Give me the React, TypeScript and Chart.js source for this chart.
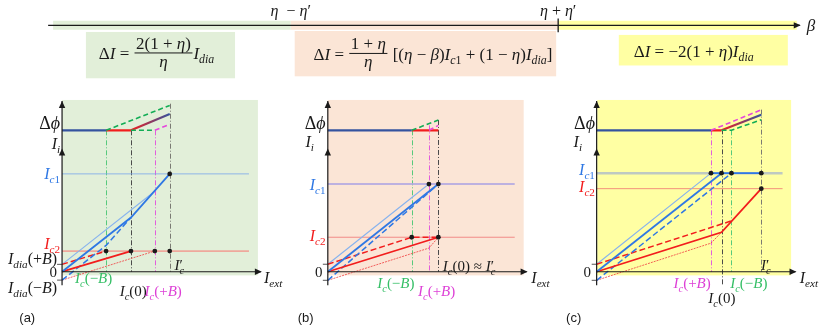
import React, { useEffect, useRef } from 'react';
import { Chart, registerables } from 'chart.js';

Chart.register(...registerables);

// ================= DATA (schematic units) =================
// ---- panel (a): beta < eta - eta'
const aI1PlusB = [[0, 0.75], [9.33, 8.17]];
const aI1Zero = [[0, 0], [6.93, 5.5], [10.83, 9.93]];
const aI1MinusB = [[0, -0.85], [4.43, 2.67], [6.93, 5.5]];
const aI2MinusB = [[0, 0.75], [4.43, 2.1]];
const aI2Zero = [[0, 0], [6.93, 2.1]];
const aI2PlusB = [[0, -0.85], [9.33, 2.1]];
const aIc1Level = [[0, 9.93], [18.8, 9.93]];
const aIc2Level = [[0, 2.1], [18.8, 2.1]];
const aDots = [[10.83, 9.93], [4.43, 2.1], [6.93, 2.1], [9.33, 2.1], [10.83, 2.1]];
const aPhiFlatBlue = [[0, 0], [4.43, 0]];
const aPhiFlatRed = [[4.43, 0], [6.93, 0]];
const aPhiRise = [[6.93, 0], [10.83, 1.65]];
const aPhiMinusB = [[4.43, 0], [10.83, 2.53]];
const aPhiFlatGreen = [[6.93, 0], [9.33, 0]];
const aPhiPlusB = [[9.33, 0], [10.83, 0.61]];
const aGuideX = [4.43, 6.93, 9.33, 10.83];
const aGuideTop = [0, 0, 0, 2.7];
const aGuideBottom = [0, 0, 0, 0];
const aDia = [0.75, -0.85];

// ---- panel (b): eta - eta' < beta < eta + eta'
const bI1PlusB = [[0, 0.76], [10.17, 8.9]];
const bI1Zero = [[0, 0], [11.12, 8.9]];
const bI1MinusB = [[0, -0.87], [11.12, 8.9]];
const bI2MinusB = [[0, 0.76], [8.44, 3.5], [11.12, 3.5]];
const bI2Zero = [[0, 0], [11.12, 3.5]];
const bI2PlusB = [[0, -0.87], [10.17, 2.4], [11.12, 3.5]];
const bIc1Level = [[0, 8.9], [18.8, 8.9]];
const bIc2Level = [[0, 3.5], [18.8, 3.5]];
const bDots = [[10.17, 8.9], [11.12, 8.9], [8.44, 3.5], [11.12, 3.5]];
const bPhiFlatBlue = [[0, 0], [8.44, 0]];
const bPhiFlatRed = [[8.44, 0], [11.12, 0]];
const bPhiMinusB = [[8.44, 0], [11.12, 1.05]];
const bPhiPlusB = [[10.17, 0], [11.12, 0.5]];
const bGuideX = [8.44, 10.17, 11.12];
const bGuideTop = [0, 0.5, 1.05];
const bGuideBottom = [0, 0, 0];
const bDia = [0.76, -0.87];

// ---- panel (c): beta > eta + eta'
const cI1PlusB = [[0, 0.76], [11.5, 10]];
const cI1Zero = [[0, 0], [12.56, 10]];
const cI1MinusB = [[0, -0.87], [13.56, 10]];
const cI1Saturated = [[11.5, 10], [16.56, 10]];
const cI2MinusB = [[0, 0.76], [13.56, 5.16]];
const cI2Zero = [[0, 0], [12.56, 4.0], [16.56, 8.43]];
const cI2PlusB = [[0, -0.87], [11.5, 2.9], [12.56, 4.0]];
const cIc1Level = [[0, 10], [18.7, 10]];
const cIc2Level = [[0, 8.43], [18.7, 8.43]];
const cDots = [[11.5, 10], [12.56, 10], [13.56, 10], [16.56, 10], [16.56, 8.43]];
const cPhiFlatBlue = [[0, 0], [11.5, 0]];
const cPhiFlatRed = [[11.5, 0], [12.56, 0]];
const cPhiRise = [[12.56, 0], [16.56, 1.58]];
const cPhiPlusB = [[11.5, 0], [16.56, 2.08]];
const cPhiMinusB = [[12.56, 0], [13.56, 0], [16.56, 1.08]];
const cGuideX = [11.5, 12.56, 13.56, 16.56];
const cGuideTop = [0, 0.1, 0, 2.1];
const cGuideBottom = [0, -1.3, 0, 0];
const cDia = [0.76, -0.87];

// ---- axes of every panel
const axisVertical = [[0, -1.37], [0, 17.33]];
const axisIiArrow = 12.5;
const axisHorizontal = [[0, 0], [20, 0]];

// ---- top beta axis
const betaAxis = [[0, 0], [75.6, 0]];
const betaMarks = [24.4, 51.3]; // eta - eta', eta + eta'
const betaGreen = [[0.5, 0], [24.4, 0]];
const betaPink = [[24.4, 0], [51.3, 0]];
const betaYellow = [[51.3, 0], [75.3, 0]];
const betaTick = [[51.3, 0.7], [51.3, -0.7]];

// ================= LAYOUT / STYLE =================
const W = 830;
const H = 331;
const UNIT = 10;
const ORIGIN = { a: 60, b: 327.3, c: 597.7, top: 46, iZero: 273.3, phiZero: 129.8, topY: 23.3 };

const GREEN_BG = '#e2efd9';
const PINK_BG = '#fbe5d6';
const YELLOW_BG = '#ffffa3';
const BLUE = '#2f78e4';
const BLUE_LIGHT = '#86b2ee';
const RED = '#f21d1d';
const RED_LIGHT = 'rgba(240,70,70,0.85)';
const GREEN = '#12ad55';
const MAGENTA = '#e648dc';
const PHI_BLUE = '#34539f';
const INK = '#1a1a1a';
const LBL_GREEN = '#35bf66';
const LBL_MAG = '#dd3fd6';
const FORMULA_SIZE = 17;

const MATH_FONT = '"Liberation Serif", "DejaVu Serif", serif';
const SANS_FONT = '"Liberation Sans", "Noto Sans", sans-serif';

type Run = { t: string; it?: boolean; sub?: boolean; sup?: boolean; sans?: boolean };
type Frac = { num: Item[]; den: Item[] };
type Both = { subT: string; supT: string; it?: boolean };
type Item = Run | Frac | Both;

const I: Run = { t: 'I', it: true };
const sub = (t: string, it = true): Run => ({ t, sub: true, it });
const up = (t: string): Run => ({ t });
const itl = (t: string): Run => ({ t, it: true });
const IcB = (sign: string): Item[] => [I, sub('c'), up('(' + sign), itl('B'), up(')')];
const Ic0: Item[] = [I, sub('c'), up('(0)')];
const IcPrime: Item[] = [I, { subT: 'c', supT: '′', it: true }];
const Ic1: Item[] = [I, sub('c'), sub('1', false)];
const Ic2: Item[] = [I, sub('c'), sub('2', false)];
const Ii: Item[] = [I, sub('i')];
const Iext: Item[] = [I, sub('ext')];
const Dphi: Item[] = [up('Δ'), itl('ϕ')];
const Idia: Item[] = [I, sub('dia')];

type Label = { x: string; y: string; vx: number; vy: number; align: 'left' | 'right' | 'center'; size: number; color: string; items: Item[] };

function panelLabels(x: string, L: any): Label[] {
  return L.map((l: any) => ({ x, y: 'y', align: 'left', size: 15, color: INK, ...l }));
}

const LABELS: Label[] = [
  ...panelLabels('x', [
    { vx: -0.2, vy: 0.78, y: 'yP', align: 'right', size: 18, items: Dphi },
    { vx: -0.2, vy: 13.03, align: 'right', size: 16, items: Ii },
    { vx: -0.2, vy: 9.93, align: 'right', size: 16, color: BLUE, items: Ic1 },
    { vx: -0.2, vy: 2.83, align: 'right', size: 16, color: RED, items: Ic2 },
    { vx: -0.5, vy: 1.33, align: 'right', size: 16, items: [...Idia, up('(+'), itl('B'), up(')')] },
    { vx: -0.5, vy: 0, align: 'right', items: [up('0')] },
    { vx: -0.5, vy: -1.67, align: 'right', size: 16, items: [...Idia, up('(−'), itl('B'), up(')')] },
    { vx: 1.3, vy: -0.67, color: LBL_GREEN, items: IcB('−') },
    { vx: 5.8, vy: -1.97, items: Ic0 },
    { vx: 8.3, vy: -1.97, color: LBL_MAG, items: IcB('+') },
    { vx: 11.3, vy: 0.63, items: IcPrime },
    { vx: 20.3, vy: -0.6, size: 16, items: Iext },
    { vx: -4.3, vy: -4.67, size: 13, items: [{ t: '(a)', sans: true }] },
  ]),
  ...panelLabels('xB', [
    { vx: -0.23, vy: 0.78, y: 'yP', align: 'right', size: 18, items: Dphi },
    { vx: -1.4, vy: 13.16, align: 'right', size: 16, items: Ii },
    { vx: -0.23, vy: 8.83, align: 'right', size: 16, color: BLUE, items: Ic1 },
    { vx: -0.23, vy: 3.66, align: 'right', size: 16, color: RED, items: Ic2 },
    { vx: -0.53, vy: 0, align: 'right', items: [up('0')] },
    { vx: 4.97, vy: -1.17, color: LBL_GREEN, items: IcB('−') },
    { vx: 9.07, vy: -1.97, color: LBL_MAG, items: IcB('+') },
    { vx: 11.57, vy: 0.53, items: [...Ic0, up(' ≈ '), ...IcPrime] },
    { vx: 20.47, vy: -0.6, size: 16, items: Iext },
    { vx: -3.03, vy: -4.67, size: 13, items: [{ t: '(b)', sans: true }] },
  ]),
  ...panelLabels('xC', [
    { vx: -0.17, vy: 0.78, y: 'yP', align: 'right', size: 18, items: Dphi },
    { vx: -1.47, vy: 13.16, align: 'right', size: 16, items: Ii },
    { vx: -0.17, vy: 10.33, align: 'right', size: 16, color: BLUE, items: Ic1 },
    { vx: -0.17, vy: 8.63, align: 'right', size: 16, color: RED, items: Ic2 },
    { vx: -0.57, vy: 0, align: 'right', items: [up('0')] },
    { vx: 7.73, vy: -1.17, color: LBL_MAG, items: IcB('+') },
    { vx: 13.43, vy: -1.17, color: LBL_GREEN, items: IcB('−') },
    { vx: 11.23, vy: -2.67, items: Ic0 },
    { vx: 16.53, vy: 0.63, items: IcPrime },
    { vx: 20.43, vy: -0.6, size: 16, items: Iext },
    { vx: -3.07, vy: -4.67, size: 13, items: [{ t: '(c)', sans: true }] },
  ]),
  { x: 'xT', y: 'yT', vx: betaMarks[0], vy: 1.45, align: 'center', size: 16, color: INK, items: [itl('η'), up('  − '), itl('η'), up('′')] },
  { x: 'xT', y: 'yT', vx: betaMarks[1], vy: 1.45, align: 'center', size: 16, color: INK, items: [itl('η'), up(' + '), itl('η'), up('′')] },
  { x: 'xT', y: 'yT', vx: 76.3, vy: 0, align: 'left', size: 17, color: INK, items: [itl('β')] },
];

const eta = itl('η');
const FORMULAS = [
  {
    box: [3.8, 18.8, -0.67, -5.37], color: GREEN_BG, vx: 5.1, vy: -3.42,
    items: [up('Δ'), I, up(' = '), { num: [up('2(1 + '), eta, up(')')], den: [eta] }, ...Idia] as Item[],
  },
  {
    box: [24.8, 51.1, -0.57, -5.17], color: PINK_BG, vx: 26.7, vy: -3.47,
    items: [up('Δ'), I, up(' = '), { num: [up('1 + '), eta], den: [eta] }, up(' [('), eta, up(' − '), itl('β'), up(')'), ...Ic1, up(' + (1 − '), eta, up(')'), ...Idia, up(']')] as Item[],
  },
  {
    box: [57.4, 74.4, -0.97, -4.07], color: YELLOW_BG, vx: 58.9, vy: -3.17,
    items: [up('Δ'), I, up(' = −2(1 + '), eta, up(')'), ...Idia] as Item[],
  },
];

const PANELS = [
  { xId: 'x', bg: [0, 19.7, -0.37, 17.43], bgColor: GREEN_BG, gx: aGuideX, gt: aGuideTop, gb: aGuideBottom, gc: ['#57c97c', '#4a4a4a', '#e25ddc', '#7a7a72'] },
  { xId: 'xB', bg: [0, 19.7, -0.37, 17.43], bgColor: PINK_BG, gx: bGuideX, gt: bGuideTop, gb: bGuideBottom, gc: ['#57c97c', '#e25ddc', '#4a4a4a'] },
  { xId: 'xC', bg: [0.06, 19.56, -0.37, 17.43], bgColor: YELLOW_BG, gx: cGuideX, gt: cGuideTop, gb: cGuideBottom, gc: ['#e25ddc', '#4a4a4a', '#57c97c', '#7a7a72'] },
];

// ================= HELPERS =================
function setFont(ctx: CanvasRenderingContext2D, size: number, it?: boolean, sans?: boolean) {
  ctx.font = `${it ? 'italic ' : ''}${size}px ${sans ? SANS_FONT : MATH_FONT}`;
}
function bothWidth(ctx: CanvasRenderingContext2D, it: Both, size: number) {
  setFont(ctx, size * 0.7, it.it);
  const a = ctx.measureText(it.subT).width;
  setFont(ctx, size, false);
  const b = ctx.measureText(it.supT).width;
  return Math.max(a, b);
}
function measure(ctx: CanvasRenderingContext2D, items: Item[], size: number): number {
  let w = 0;
  for (const it of items) {
    if ('num' in it) {
      w += Math.max(measure(ctx, it.num, size), measure(ctx, it.den, size)) + size * 0.3;
    } else if ('subT' in it) {
      w += bothWidth(ctx, it, size);
    } else {
      setFont(ctx, it.sub || it.sup ? size * 0.7 : size, it.it, it.sans);
      w += ctx.measureText(it.t).width;
    }
  }
  return w;
}
function drawItems(ctx: CanvasRenderingContext2D, items: Item[], x: number, base: number, size: number) {
  for (const it of items) {
    if ('num' in it) {
      const nw = measure(ctx, it.num, size);
      const dw = measure(ctx, it.den, size);
      const w = Math.max(nw, dw) + size * 0.3;
      const bar = base - size * 0.36;
      ctx.fillRect(x + 1, bar - 0.5, w - 2, 1);
      drawItems(ctx, it.num, x + (w - nw) / 2, bar - size * 0.24, size);
      drawItems(ctx, it.den, x + (w - dw) / 2, bar + size * 0.8, size);
      x += w;
    } else if ('subT' in it) {
      const w = bothWidth(ctx, it, size);
      setFont(ctx, size * 0.7, it.it);
      ctx.fillText(it.subT, x, base + size * 0.25);
      setFont(ctx, size, false);
      ctx.fillText(it.supT, x, base - size * 0.05);
      x += w;
    } else {
      const small = it.sub || it.sup;
      setFont(ctx, small ? size * 0.7 : size, it.it, it.sans);
      const y = it.sub ? base + size * 0.25 : it.sup ? base - size * 0.4 : base;
      ctx.fillText(it.t, x, y);
      x += ctx.measureText(it.t).width;
    }
  }
}
function arrow(ctx: CanvasRenderingContext2D, x: number, y: number, dir: 'up' | 'right') {
  ctx.beginPath();
  if (dir === 'up') {
    ctx.moveTo(x, y); ctx.lineTo(x - 3.2, y + 7); ctx.lineTo(x + 3.2, y + 7);
  } else {
    ctx.moveTo(x, y); ctx.lineTo(x - 7, y - 3.2); ctx.lineTo(x - 7, y + 3.2);
  }
  ctx.closePath();
  ctx.fill();
}

const toXY = (pts: number[][]) => pts.map(([x, y]) => ({ x, y }));
function ds(xAxisID: string, yAxisID: string, pts: number[][], color: any, width: number, extra: any = {}) {
  return {
    data: toXY(pts), xAxisID, yAxisID, showLine: true, borderColor: color, backgroundColor: 'transparent',
    borderWidth: width, pointRadius: 0, pointHoverRadius: 0, pointHitRadius: 0, fill: false, tension: 0,
    borderCapStyle: 'butt', order: 3, ...extra,
  };
}
function dotSet(xAxisID: string, pts: number[][]) {
  return {
    data: toXY(pts), xAxisID, yAxisID: 'y', showLine: false, pointRadius: 2.4, pointHoverRadius: 2.4,
    pointBackgroundColor: INK, pointBorderColor: INK, pointBorderWidth: 0, order: 0,
  };
}
function gradient(xId: string, pts: number[][]) {
  return (c: any) => {
    const chart = c.chart;
    const sc = chart.scales[xId];
    if (!sc || !chart.chartArea) return RED;
    const g = chart.ctx.createLinearGradient(sc.getPixelForValue(pts[0][0]), 0, sc.getPixelForValue(pts[pts.length - 1][0]), 0);
    g.addColorStop(0, RED);
    g.addColorStop(1, PHI_BLUE);
    return g;
  };
}

const DASH = [6, 3];
function panelSets(x: string, d: any) {
  return [
    ds(x, 'y', d.ic1, d.ic1Color, d.ic1Width, { order: 9 }),
    ds(x, 'y', d.ic2, d.ic2Color, d.ic2Width, { order: 9 }),
    ds(x, 'y', d.i1p, BLUE_LIGHT, 1.1, { order: 6 }),
    ds(x, 'y', d.i2p, RED_LIGHT, 1, { order: 6, borderDash: [2, 1] }),
    ds(x, 'y', d.i1m, BLUE, 1.5, { order: 5, borderDash: DASH }),
    ds(x, 'y', d.i2m, RED, 1.5, { order: 5, borderDash: DASH }),
    ds(x, 'y', d.i1z, BLUE, 1.8, { order: 4 }),
    ds(x, 'y', d.i2z, RED, 1.8, { order: 4 }),
    ...(d.extra || []),
    dotSet(x, d.dots),
    ds(x, 'yP', d.phiBlue, PHI_BLUE, 2.2, { order: 3 }),
    ds(x, 'yP', d.phiRed, RED, 2.2, { order: 3 }),
    ...(d.phiRise ? [ds(x, 'yP', d.phiRise, gradient(x, d.phiRise), 2.2, { order: 3 })] : []),
    ...d.phiDashed.map((p: any) => ds(x, 'yP', p[0], p[1], 1.6, { order: 2, borderDash: [5, 3] })),
    ds(x, 'y', axisVertical, INK, 1.2, { order: 1 }),
    ds(x, 'y', axisHorizontal, INK, 1.2, { order: 1 }),
    ...d.dia.map((v: number) => ds(x, 'y', [[-0.5, v], [0, v]], '#555', 1, { order: 1 })),
  ];
}

function buildDatasets() {
  return [
    ...panelSets('x', {
      ic1: aIc1Level, ic1Color: 'rgba(120,165,235,0.8)', ic1Width: 1,
      ic2: aIc2Level, ic2Color: 'rgba(242,150,140,0.8)', ic2Width: 1.8,
      i1p: aI1PlusB, i2p: aI2PlusB, i1m: aI1MinusB, i2m: aI2MinusB, i1z: aI1Zero, i2z: aI2Zero,
      dots: aDots, phiBlue: aPhiFlatBlue, phiRed: aPhiFlatRed, phiRise: aPhiRise,
      phiDashed: [[aPhiMinusB, GREEN], [aPhiFlatGreen, GREEN], [aPhiPlusB, MAGENTA]], dia: aDia,
    }),
    ...panelSets('xB', {
      ic1: bIc1Level, ic1Color: 'rgba(178,168,226,0.85)', ic1Width: 2,
      ic2: bIc2Level, ic2Color: 'rgba(240,110,110,0.75)', ic2Width: 1,
      i1p: bI1PlusB, i2p: bI2PlusB, i1m: bI1MinusB, i2m: bI2MinusB, i1z: bI1Zero, i2z: bI2Zero,
      dots: bDots, phiBlue: bPhiFlatBlue, phiRed: bPhiFlatRed, phiRise: null,
      phiDashed: [[bPhiMinusB, GREEN], [bPhiPlusB, MAGENTA]], dia: bDia,
    }),
    ...panelSets('xC', {
      ic1: cIc1Level, ic1Color: 'rgba(188,198,196,0.95)', ic1Width: 2.5,
      ic2: cIc2Level, ic2Color: 'rgba(240,110,110,0.75)', ic2Width: 1,
      i1p: cI1PlusB, i2p: cI2PlusB, i1m: cI1MinusB, i2m: cI2MinusB, i1z: cI1Zero, i2z: cI2Zero,
      extra: [ds('xC', 'y', cI1Saturated, BLUE, 1.8, { order: 4 })],
      dots: cDots, phiBlue: cPhiFlatBlue, phiRed: cPhiFlatRed, phiRise: cPhiRise,
      phiDashed: [[cPhiPlusB, MAGENTA], [cPhiMinusB, GREEN]], dia: cDia,
    }),
    ds('xT', 'yT', betaGreen, GREEN_BG, 9, { order: 9 }),
    ds('xT', 'yT', betaPink, PINK_BG, 9, { order: 9 }),
    ds('xT', 'yT', betaYellow, YELLOW_BG, 9, { order: 9 }),
    ds('xT', 'yT', betaAxis, INK, 1.3, { order: 1 }),
    ds('xT', 'yT', betaTick, INK, 1.3, { order: 1 }),
  ];
}

const schematicPlugin = {
  id: 'schematic',
  beforeDatasetsDraw(chart: any) {
    const ctx: CanvasRenderingContext2D = chart.ctx;
    const s = chart.scales;
    ctx.save();
    for (const p of PANELS) {
      const xs = s[p.xId];
      const x0 = xs.getPixelForValue(p.bg[0]);
      const x1 = xs.getPixelForValue(p.bg[1]);
      const y0 = s.y.getPixelForValue(p.bg[2]);
      const y1 = s.y.getPixelForValue(p.bg[3]);
      ctx.fillStyle = p.bgColor;
      ctx.fillRect(x0, y1, x1 - x0, y0 - y1);
    }
    for (const f of FORMULAS) {
      const x0 = s.xT.getPixelForValue(f.box[0]);
      const x1 = s.xT.getPixelForValue(f.box[1]);
      const y0 = s.yT.getPixelForValue(f.box[2]);
      const y1 = s.yT.getPixelForValue(f.box[3]);
      ctx.fillStyle = f.color;
      ctx.fillRect(x0, y0, x1 - x0, y1 - y0);
    }
    ctx.lineWidth = 1;
    ctx.setLineDash([5, 2, 1, 2]);
    for (const p of PANELS) {
      const xs = s[p.xId];
      p.gx.forEach((gx: number, i: number) => {
        const x = Math.round(xs.getPixelForValue(gx)) + 0.5;
        ctx.strokeStyle = p.gc[i];
        ctx.beginPath();
        ctx.moveTo(x, s.yP.getPixelForValue(p.gt[i]));
        ctx.lineTo(x, s.y.getPixelForValue(p.gb[i]));
        ctx.stroke();
      });
    }
    ctx.restore();
  },
  afterDatasetsDraw(chart: any) {
    const ctx: CanvasRenderingContext2D = chart.ctx;
    const s = chart.scales;
    ctx.save();
    ctx.fillStyle = INK;
    for (const p of PANELS) {
      const xs = s[p.xId];
      const ax = xs.getPixelForValue(0);
      arrow(ctx, ax, s.y.getPixelForValue(axisVertical[1][1]), 'up');
      arrow(ctx, ax, s.y.getPixelForValue(axisIiArrow), 'up');
      arrow(ctx, xs.getPixelForValue(axisHorizontal[1][0]) + 1, s.y.getPixelForValue(0), 'right');
    }
    arrow(ctx, s.xT.getPixelForValue(betaAxis[1][0]) + 1, s.yT.getPixelForValue(0), 'right');
    ctx.textBaseline = 'alphabetic';
    for (const l of LABELS) {
      const px = s[l.x].getPixelForValue(l.vx);
      const py = s[l.y].getPixelForValue(l.vy);
      const w = measure(ctx, l.items, l.size);
      const x0 = l.align === 'right' ? px - w : l.align === 'center' ? px - w / 2 : px;
      ctx.fillStyle = l.color;
      drawItems(ctx, l.items, x0, py + l.size * 0.33, l.size);
    }
    ctx.fillStyle = INK;
    for (const f of FORMULAS) {
      drawItems(ctx, f.items, s.xT.getPixelForValue(f.vx), s.yT.getPixelForValue(f.vy), FORMULA_SIZE);
    }
    ctx.restore();
  },
};

function xScale(originPx: number) {
  return { type: 'linear', axis: 'x', position: 'bottom', display: false, bounds: 'data', min: -originPx / UNIT, max: (W - originPx) / UNIT };
}
function yScale(originPx: number) {
  return { type: 'linear', axis: 'y', position: 'left', display: false, bounds: 'data', min: -(H - originPx) / UNIT, max: originPx / UNIT };
}

export default function App() {
  const ref = useRef<HTMLCanvasElement>(null);
  useEffect(() => {
    if (!ref.current) return;
    const chart = new Chart(ref.current, {
      type: 'scatter',
      data: { datasets: buildDatasets() as any },
      options: {
        animation: false,
        responsive: false,
        devicePixelRatio: 1,
        events: [],
        layout: { padding: 0 },
        plugins: { legend: { display: false }, tooltip: { enabled: false }, title: { display: false } },
        scales: {
          x: xScale(ORIGIN.a),
          xB: xScale(ORIGIN.b),
          xC: xScale(ORIGIN.c),
          xT: xScale(ORIGIN.top),
          y: yScale(ORIGIN.iZero),
          yP: yScale(ORIGIN.phiZero),
          yT: yScale(ORIGIN.topY),
        } as any,
      },
      plugins: [schematicPlugin as any],
    });
    return () => chart.destroy();
  }, []);
  return (
    <div style={{ position: 'absolute', left: 0, top: 0, width: W, height: H, background: '#fff' }}>
      <canvas ref={ref} width={W} height={H} style={{ display: 'block' }} />
    </div>
  );
}
